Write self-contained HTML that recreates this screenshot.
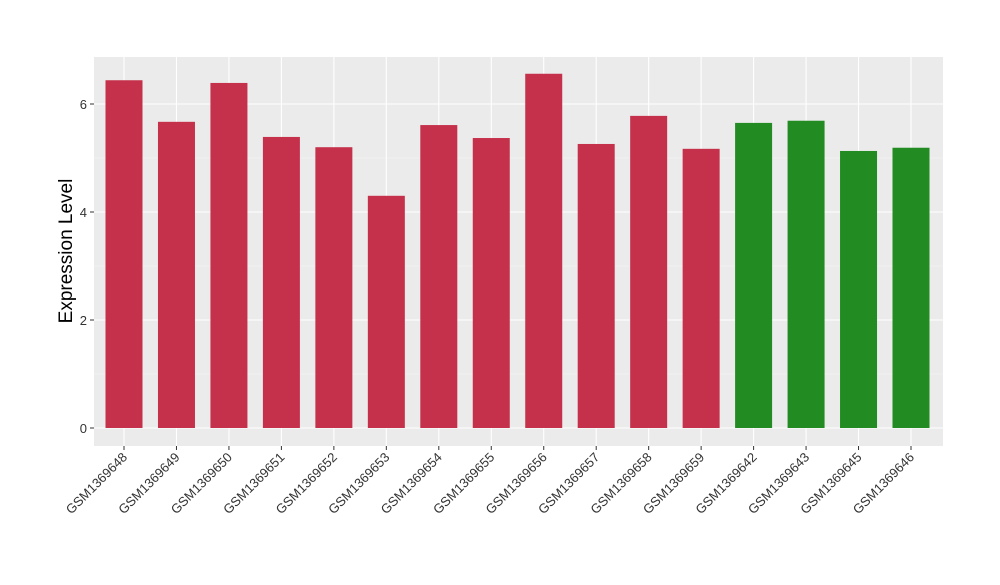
<!DOCTYPE html>
<html><head><meta charset="utf-8"><style>
body{margin:0;background:#fff;}
text{font-family:"Liberation Sans",Arial,sans-serif;}
</style></head><body>
<svg id="chart" width="1000" height="580" xmlns="http://www.w3.org/2000/svg">
<rect x="94" y="57" width="849" height="389" fill="#ebebeb"/>
<g id="grid"></g><g id="bars"></g><g id="axes"></g>
<text x="72" y="251" font-size="19" text-anchor="middle" transform="rotate(-90 72 251)" fill="#000">Expression Level</text>
</svg>
<script>
const categories=["GSM1369648","GSM1369649","GSM1369650","GSM1369651","GSM1369652","GSM1369653","GSM1369654","GSM1369655","GSM1369656","GSM1369657","GSM1369658","GSM1369659","GSM1369642","GSM1369643","GSM1369645","GSM1369646"];
const values=[6.44,5.67,6.39,5.39,5.20,4.30,5.61,5.37,6.56,5.26,5.78,5.17,5.65,5.69,5.13,5.19];
const groups=["a","a","a","a","a","a","a","a","a","a","a","a","b","b","b","b"];
const yTicks=[0,2,4,6];
const colors={a:"#c5314a",b:"#228b22"};
const NS="http://www.w3.org/2000/svg";
const y=v=>428-v*54;
const step=(911-124)/(categories.length-1);
const x=i=>124+i*step;
const bw=37;
function mk(tag,attrs,parent){const e=document.createElementNS(NS,tag);for(const k in attrs)e.setAttribute(k,attrs[k]);document.getElementById(parent).appendChild(e);return e;}
for(let v=1;v<=7;v+=2){if(y(v)>57){const l=mk("line",{x1:94,x2:943,y1:y(v),y2:y(v),stroke:"#f5f5f5","stroke-width":0.6},"grid");

}}
yTicks.forEach(t=>{const l=mk("line",{x1:94,x2:943,y1:y(t),y2:y(t),stroke:"#fff","stroke-width":1.1},"grid");


const tk=mk("line",{x1:90,x2:94,y1:y(t),y2:y(t),stroke:"#333"},"axes");


const tx=mk("text",{x:87,y:y(t)+5,"font-size":13,"text-anchor":"end",fill:"#333"},"axes");tx.textContent=t;

});
categories.forEach((c,i)=>{const g=mk("line",{x1:x(i),x2:x(i),y1:57,y2:446,stroke:"#fff","stroke-width":1.1},"grid");


const r=mk("rect",{x:x(i)-bw/2,y:y(values[i]),width:bw,height:y(0)-y(values[i]),fill:colors[groups[i]]},"bars");


const tk=mk("line",{x1:x(i),x2:x(i),y1:446,y2:450,stroke:"#333"},"axes");


const tx=mk("text",{x:x(i)+4,y:458,"font-size":13,"text-anchor":"end",fill:"#333",transform:`rotate(-45 ${x(i)+4} 458)`},"axes");tx.textContent=c;

});
</script>
</body></html>
